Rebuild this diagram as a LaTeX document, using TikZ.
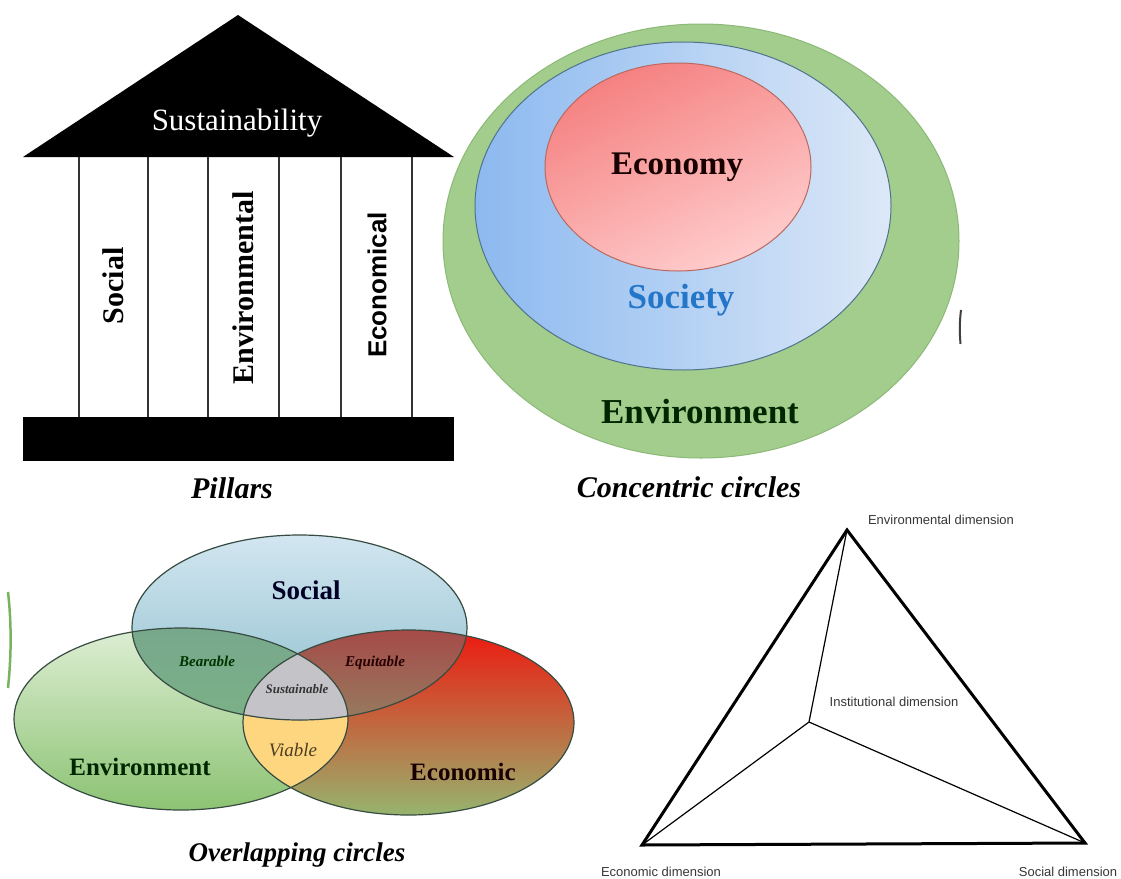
\documentclass[tikz,border=0pt]{standalone}
\usepackage{fontspec}
\setmainfont{Liberation Serif}
\newfontfamily\arialfont{Liberation Sans}
\definecolor{greenfill}{RGB}{163,205,140}
\definecolor{greenline}{RGB}{140,185,120}
\definecolor{bluedark}{RGB}{140,185,240}
\definecolor{bluelight}{RGB}{220,232,247}
\definecolor{blueline}{RGB}{80,115,140}
\definecolor{redtl}{RGB}{245,128,128}
\definecolor{redbr}{RGB}{255,205,205}
\definecolor{redline}{RGB}{185,105,95}
\definecolor{societyblue}{RGB}{35,118,200}
\definecolor{envtop}{RGB}{222,238,212}
\definecolor{envbot}{RGB}{140,195,115}
\definecolor{ecotop}{RGB}{238,25,15}
\definecolor{ecomid}{RGB}{212,85,60}
\definecolor{ecobot}{RGB}{150,180,110}
\definecolor{soctop}{RGB}{210,230,240}
\definecolor{socbot}{RGB}{140,190,205}
\definecolor{beartop}{RGB}{120,168,140}
\definecolor{bearbot}{RGB}{125,185,130}
\definecolor{equtop}{RGB}{165,75,72}
\definecolor{equbot}{RGB}{135,175,120}
\definecolor{sustgray}{RGB}{196,196,200}
\definecolor{viableyellow}{RGB}{255,214,128}
\definecolor{viabletext}{RGB}{75,62,35}
\definecolor{vennline}{RGB}{55,75,65}
\definecolor{dimgray}{RGB}{55,55,55}
\definecolor{edgegreen}{RGB}{120,180,95}
\begin{document}
\begin{tikzpicture}[x=1pt,y=-1pt,
  pillarline/.style={draw=black!80, line width=1.3pt},
  socR/.style={x radius=167.5, y radius=92.5},
  envR/.style={x radius=167, y radius=91},
  ecoR/.style={x radius=165.5, y radius=92.5},
  vennedge/.style={draw=vennline, line width=1.2pt},
  caption/.style={font=\fontsize{30}{34}\selectfont\bfseries\itshape, inner sep=0pt},
  dimlabel/.style={font=\arialfont\fontsize{13}{15}\selectfont, text=dimgray, inner sep=0pt}]
\useasboundingbox (0,0) rectangle (1121,878);
\fill[white] (0,0) rectangle (1121,878);

% ---------------- Pillars ----------------
\fill[black] (23,157) -- (238,15) -- (454,157) -- cycle;
\node[text=white, font=\fontsize{31}{35}\selectfont, inner sep=0pt] (sust) at (237,123) {Sustainability};
\foreach \px in {79,148,208,279,341,412}{\draw[pillarline] (\px,157) -- (\px,417);}
\fill[black] (23,417) rectangle (454,461);
\node[rotate=90, font=\fontsize{30}{34}\selectfont\bfseries, inner sep=0pt] (psoc) at (113,286) {Social};
\node[rotate=90, font=\fontsize{30}{34}\selectfont\bfseries, inner sep=0pt] (penv) at (243,288) {Environmental};
\node[rotate=90, font=\arialfont\fontsize{26}{30}\selectfont\bfseries, inner sep=0pt] (peco) at (377,285) {Economical};
\node[caption] (pcap) at (232,488) {Pillars};

% ---------------- Concentric circles ----------------
\path[fill=greenfill, draw=greenline, line width=1pt] (701,241) ellipse [x radius=258, y radius=217];
\shade[left color=bluedark, right color=bluelight] (683,206) ellipse [x radius=208, y radius=164];
\draw[blueline, line width=1pt] (683,206) ellipse [x radius=208, y radius=164];
\shade[top color=redtl, bottom color=redbr, shading angle=25] (678,167) ellipse [x radius=133, y radius=104];
\draw[redline, line width=1pt] (678,167) ellipse [x radius=133, y radius=104];
\node[font=\fontsize{33}{36}\selectfont\bfseries, text=black!90!red, inner sep=0pt] (economy) at (677,167) {Economy};
\node[font=\fontsize{35}{38}\selectfont\bfseries, text=societyblue, inner sep=0pt] (society) at (681,300) {Society};
\node[font=\fontsize{35}{38}\selectfont\bfseries, text=black!85!green, inner sep=0pt] (environment) at (700,412) {Environment};
\node[caption] (ccap) at (689,487) {Concentric circles};
\draw[black!75, line width=2pt] (961,310) .. controls (959.5,322) and (959.5,332) .. (960.5,344);

% ---------------- Overlapping circles ----------------
\coordinate (socc) at (299.5,627.5);
\coordinate (envc) at (181,719);
\coordinate (ecoc) at (408.5,722.5);
\shade[top color=envtop, bottom color=envbot] (envc) ellipse [envR];
\shade[top color=ecotop, middle color=ecomid, bottom color=ecobot] (ecoc) ellipse [ecoR];
\begin{scope}
  \clip (envc) ellipse [envR];
  \fill[viableyellow] (ecoc) ellipse [ecoR];
\end{scope}
\shade[top color=soctop, bottom color=socbot] (socc) ellipse [socR];
\begin{scope}
  \clip (socc) ellipse [socR];
  \shade[top color=beartop, bottom color=bearbot] (envc) ellipse [envR];
  \shade[top color=equtop, bottom color=equbot] (ecoc) ellipse [ecoR];
  \clip (envc) ellipse [envR];
  \fill[sustgray] (ecoc) ellipse [ecoR];
\end{scope}
\draw[vennedge] (envc) ellipse [envR];
\draw[vennedge] (ecoc) ellipse [ecoR];
\draw[vennedge] (socc) ellipse [socR];
\node[font=\fontsize{27}{30}\selectfont\bfseries, text=black!85!blue, inner sep=0pt] (vsocial) at (306,590) {Social};
\node[font=\fontsize{15}{17}\selectfont\bfseries\itshape, text=black!80!green, inner sep=0pt] (vbear) at (207,661) {Bearable};
\node[font=\fontsize{15}{17}\selectfont\bfseries\itshape, text=black!85!red, inner sep=0pt] (vequ) at (375,663) {Equitable};
\node[font=\fontsize{13}{15}\selectfont\bfseries\itshape, text=black!80, inner sep=0pt] (vsust) at (297,689) {Sustainable};
\node[font=\fontsize{19}{21}\selectfont\itshape, text=viabletext, inner sep=0pt] (vviable) at (293,750) {Viable};
\node[font=\fontsize{25}{28}\selectfont\bfseries, text=black!85!green, inner sep=0pt] (venv) at (140,767) {Environment};
\node[font=\fontsize{25}{28}\selectfont\bfseries, text=black!90!red, inner sep=0pt] (veco) at (463,772) {Economic};
\node[caption, font=\fontsize{27}{30}\selectfont\bfseries\itshape] (ocap) at (297,855) {Overlapping circles};
\draw[edgegreen, line width=2.5pt] (8,592) .. controls (11.5,622) and (11.5,655) .. (8,688);

% ---------------- Triangle ----------------
\coordinate (tA) at (847,530);
\coordinate (tB) at (642,845);
\coordinate (tC) at (1085,843);
\coordinate (tI) at (809,722);
\draw[line width=3pt, line join=miter] (tA) -- (tB) -- (tC) -- cycle;
\draw[line width=1.2pt] (tA) -- (tI) -- (tB);
\draw[line width=1.2pt] (tI) -- (tC);
\node[dimlabel] (lenv) at (941,520) {Environmental dimension};
\node[dimlabel] (linst) at (894,702) {Institutional dimension};
\node[dimlabel] (leco) at (661,872) {Economic dimension};
\node[dimlabel] (lsoc) at (1068,872) {Social dimension};
\end{tikzpicture}
\end{document}
